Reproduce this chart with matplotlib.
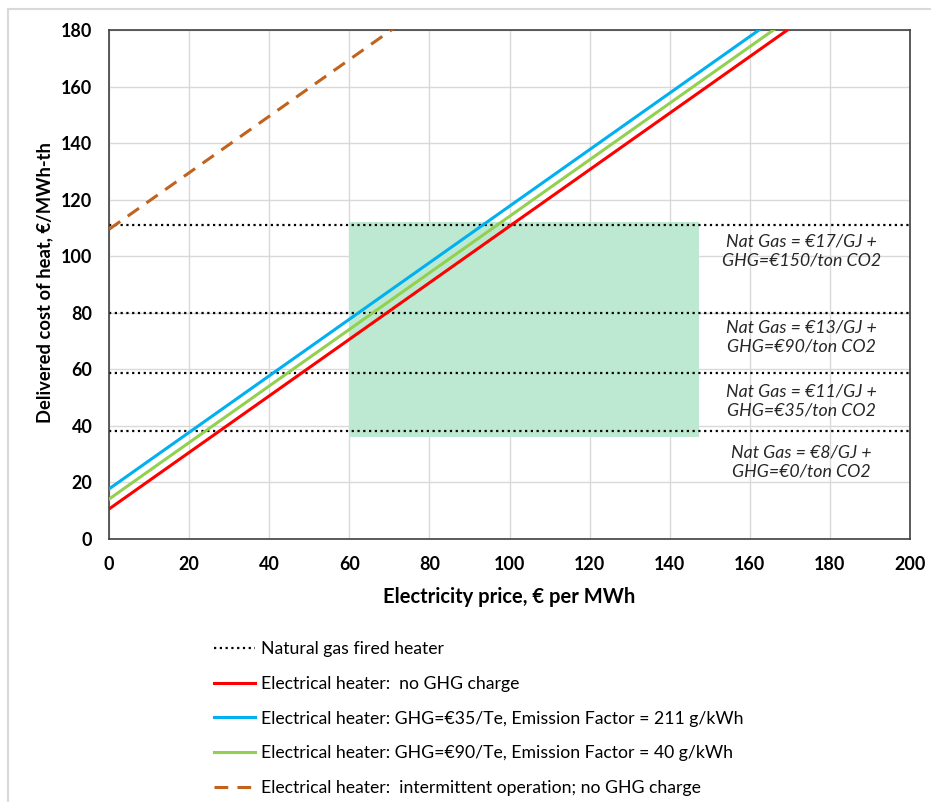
import matplotlib
matplotlib.use("Agg")
import matplotlib.pyplot as plt
from matplotlib.lines import Line2D
from matplotlib.patches import Rectangle

plt.rcParams['font.family'] = ['Lato', 'DejaVu Sans']

# ---- data ----
elec_price_ends = [0, 200]
red_y = [10.6, 210.6]          # no GHG charge
blue_y = [17.7, 217.7]         # GHG=35, EF=211
green_y = [14.1, 214.1]        # GHG=90, EF=40
brown_y = [109.5, 309.5]       # intermittent
gas_levels = [111.2, 80.0, 58.8, 38.2]
gas_labels = ["Nat Gas = €17/GJ +\nGHG=€150/ton CO2",
              "Nat Gas = €13/GJ +\nGHG=€90/ton CO2",
              "Nat Gas = €11/GJ +\nGHG=€35/ton CO2",
              "Nat Gas = €8/GJ +\nGHG=€0/ton CO2"]
label_y = [101.8, 71.4, 48.8, 27.2]
box_x = [60, 147.2]
box_y = [36.2, 112.0]
legend_labels = ["Natural gas fired heater",
                 "Electrical heater:  no GHG charge",
                 "Electrical heater: GHG=€35/Te, Emission Factor = 211 g/kWh",
                 "Electrical heater: GHG=€90/Te, Emission Factor = 40 g/kWh",
                 "Electrical heater:  intermittent operation; no GHG charge"]

W, H = 931, 802
fig = plt.figure(figsize=(W/100, H/100), dpi=100)
ax = fig.add_axes([109/W, 1-539/H, (910-109)/W, (539-30)/H])

ax.add_patch(Rectangle((box_x[0], box_y[0]), box_x[1]-box_x[0], box_y[1]-box_y[0],
                       facecolor='#bde9d2', edgecolor='none', zorder=1))
for g in gas_levels:
    ax.axhline(g, color='black', linestyle=(0, (1, 1.6)), linewidth=1.6, zorder=2)
ax.plot(elec_price_ends, red_y, color='#ff0000', lw=2.2, zorder=3)
ax.plot(elec_price_ends, green_y, color='#92d050', lw=2.2, zorder=3)
ax.plot(elec_price_ends, blue_y, color='#00b0f0', lw=2.2, zorder=3)
ax.plot(elec_price_ends, brown_y, color='#c0631e', lw=2.2, ls=(0, (4.5, 3)), zorder=3)

for t, yy in zip(gas_labels, label_y):
    ax.text(172.8, yy, t, ha='center', va='center', style='italic', fontsize=12.8,
            color='#262626', linespacing=1.25, zorder=4)

ax.set_xlim(0, 200)
ax.set_ylim(0, 180)
ax.set_xticks(range(0, 201, 20))
ax.set_yticks(range(0, 181, 20))
ax.grid(True, color='#d9d9d9', lw=1, zorder=0)
ax.set_axisbelow(True)
ax.tick_params(length=0, labelsize=12.9, pad=12)
for lab in ax.get_xticklabels() + ax.get_yticklabels():
    lab.set_fontweight('bold')
for s in ax.spines.values():
    s.set_color('#404040')
    s.set_linewidth(1.2)
ax.set_xlabel("Electricity price, € per MWh", fontsize=14.5, fontweight='bold', labelpad=10)
ax.set_ylabel("Delivered cost of heat, €/MWh-th", fontsize=13.2, fontweight='bold')
ax.yaxis.set_label_coords((45-109)/801, (539-283)/509)
ax.yaxis.label.set_va('center')

handles = [Line2D([], [], color='black', ls=(0, (1, 1.6)), lw=1.6),
           Line2D([], [], color='#ff0000', lw=2.2),
           Line2D([], [], color='#00b0f0', lw=2.2),
           Line2D([], [], color='#92d050', lw=2.2),
           Line2D([], [], color='#c0631e', lw=2.2, ls=(0, (4.5, 3)))]
fig.legend(handles, legend_labels, loc='upper left', bbox_to_anchor=(205/W, 1-632/H),
           frameon=False, fontsize=12.7, handlelength=2.35, handletextpad=0.3,
           labelspacing=1.07, borderpad=0)

# outer frame (left and top edges)
fig.add_artist(Line2D([8/W, 8/W], [0, 1-9/H], color='#d9d9d9', lw=1.5, transform=fig.transFigure))
fig.add_artist(Line2D([8/W, 1], [1-9/H, 1-9/H], color='#d9d9d9', lw=1.5, transform=fig.transFigure))

fig.savefig("out.png", dpi=100)
